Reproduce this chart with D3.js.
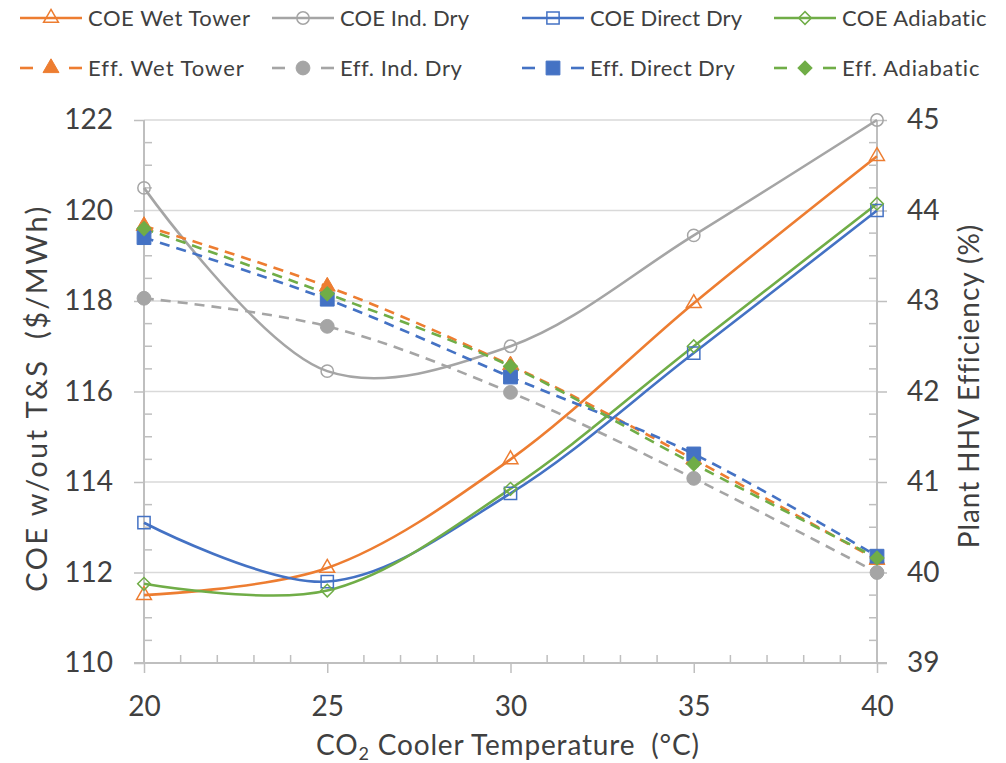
<!DOCTYPE html>
<html>
<head>
<meta charset="utf-8">
<script src="https://cdn.jsdelivr.net/npm/d3@7"></script>
<style>
  body { margin: 0; background: #fff; }
  svg text { font-family: Lato, "Open Sans", sans-serif; fill: #404040; }
</style>
</head>
<body>
<div id="chart"></div>
<script>
// values
const temps = [20, 25, 30, 35, 40];

const coeWet    = [111.5, 112.1, 114.5, 117.95, 121.2];
const coeInd    = [120.5, 116.45, 117.0, 119.45, 122.0];
const coeDirect = [113.1, 111.8, 113.75, 116.85, 120.0];
const coeAdia   = [111.75, 111.6, 113.85, 117.0, 120.15];

const effWet    = [43.83, 43.16, 42.29, 41.25, 40.14];
const effInd    = [43.03, 42.72, 41.99, 41.04, 40.0];
const effDirect = [43.70, 43.02, 42.16, 41.31, 40.18];
const effAdia   = [43.80, 43.08, 42.28, 41.20, 40.16];

const xTicks = [20, 25, 30, 35, 40];
const leftTicks = [110, 112, 114, 116, 118, 120, 122];
const rightTicks = [39, 40, 41, 42, 43, 44, 45];

const colors = { wet: "#ED7D31", ind: "#A5A5A5", direct: "#4472C4", adia: "#70AD47" };

const series = [
  { name: "COE Wet Tower",   vals: coeWet,    c: colors.wet,    axis: "l", shape: "tri",  fill: false },
  { name: "COE Ind. Dry",    vals: coeInd,    c: colors.ind,    axis: "l", shape: "circ", fill: false },
  { name: "COE Direct Dry",  vals: coeDirect, c: colors.direct, axis: "l", shape: "sq",   fill: false },
  { name: "COE Adiabatic",   vals: coeAdia,   c: colors.adia,   axis: "l", shape: "dia",  fill: false },
  { name: "Eff. Wet Tower",  vals: effWet,    c: colors.wet,    axis: "r", shape: "tri",  fill: true },
  { name: "Eff. Ind. Dry",   vals: effInd,    c: colors.ind,    axis: "r", shape: "circ", fill: true },
  { name: "Eff. Direct Dry", vals: effDirect, c: colors.direct, axis: "r", shape: "sq",   fill: true },
  { name: "Eff. Adiabatic",  vals: effAdia,   c: colors.adia,   axis: "r", shape: "dia",  fill: true }
];
// text widths measured on the reference (px)
const legendWidths = [162, 129, 152, 145, 155, 121, 144, 137];

const width = 1006, height = 763;
const plot = { left: 144, right: 877, top: 120, bottom: 663 };

const svg = d3.select("#chart").append("svg")
  .attr("width", width).attr("height", height);

const x = d3.scaleLinear().domain([20, 40]).range([plot.left, plot.right]);
const yL = d3.scaleLinear().domain([110, 122]).range([plot.bottom, plot.top]);
const yR = d3.scaleLinear().domain([39, 45]).range([plot.bottom, plot.top]);

const axisCol = "#BFBFBF";

// stretch a text's letter spacing so it spans a given width
function fitWidth(sel, target) {
  const node = sel.node();
  const w = node.getComputedTextLength();
  const n = node.textContent.length;
  if (n > 1) sel.style("letter-spacing", ((target - w) / (n - 1)) + "px");
}

// gridlines
svg.append("g").selectAll("line").data(leftTicks.slice(1)).enter().append("line")
  .attr("x1", plot.left).attr("x2", plot.right)
  .attr("y1", d => yL(d)).attr("y2", d => yL(d))
  .attr("stroke", "#D9D9D9").attr("stroke-width", 1.5);

// minor ticks
function minor(lo, hi, step) {
  const out = [];
  for (let i = 0; lo + i * step <= hi + 1e-9; i++) out.push(+(lo + i * step).toFixed(4));
  return out;
}
const g = svg.append("g");
minor(110, 122, 0.5).filter(d => d % 2 !== 0).forEach(d => {
  g.append("line").attr("x1", plot.left).attr("x2", plot.left + 8)
    .attr("y1", yL(d)).attr("y2", yL(d)).attr("stroke", axisCol).attr("stroke-width", 1.5);
});
minor(39, 45, 0.25).filter(d => d % 1 !== 0).forEach(d => {
  g.append("line").attr("x1", plot.right - 8).attr("x2", plot.right)
    .attr("y1", yR(d)).attr("y2", yR(d)).attr("stroke", axisCol).attr("stroke-width", 1.5);
});
minor(20, 40, 1).filter(d => d % 5 !== 0).forEach(d => {
  g.append("line").attr("x1", x(d)).attr("x2", x(d))
    .attr("y1", plot.bottom - 8).attr("y2", plot.bottom).attr("stroke", axisCol).attr("stroke-width", 1.5);
});

// axes
function styleAxis(sel) {
  sel.select(".domain").remove();
  sel.selectAll(".tick line").attr("stroke", axisCol).attr("stroke-width", 1.5);
  sel.selectAll(".tick text").style("font-size", "28px").attr("fill", "#404040");
}
svg.append("g").attr("transform", `translate(${plot.left},0)`)
  .call(d3.axisLeft(yL).tickValues(leftTicks).tickSize(10).tickPadding(21).tickFormat(d3.format("d")))
  .call(styleAxis);
svg.append("g").attr("transform", `translate(${plot.right},0)`)
  .call(d3.axisRight(yR).tickValues(rightTicks).tickSize(10).tickPadding(20).tickFormat(d3.format("d")))
  .call(styleAxis);
svg.append("g").attr("transform", `translate(0,${plot.bottom})`)
  .call(d3.axisBottom(x).tickValues(xTicks).tickSize(10).tickPadding(23).tickFormat(d3.format("d")))
  .call(styleAxis);

svg.append("line").attr("x1", plot.left).attr("x2", plot.left).attr("y1", plot.top).attr("y2", plot.bottom)
  .attr("stroke", axisCol).attr("stroke-width", 2);
svg.append("line").attr("x1", plot.right).attr("x2", plot.right).attr("y1", plot.top).attr("y2", plot.bottom)
  .attr("stroke", axisCol).attr("stroke-width", 2);
svg.append("line").attr("x1", plot.left - 10).attr("x2", plot.right + 10).attr("y1", plot.bottom).attr("y2", plot.bottom)
  .attr("stroke", axisCol).attr("stroke-width", 2);

// axis titles
const xt = svg.append("text").attr("x", 508).attr("y", 755).attr("text-anchor", "middle").style("font-size", "28px");
xt.append("tspan").text("CO");
xt.append("tspan").attr("dy", 5).style("font-size", "18px").text("2");
xt.append("tspan").attr("dy", -5).text(" Cooler Temperature\u00a0\u00a0(°C)");
fitWidth(xt, 383);

const lt = svg.append("text").attr("transform", "translate(47,398) rotate(-90)").attr("text-anchor", "middle")
  .style("font-size", "29px").text("COE w/out T&S\u00a0\u00a0($/MWh)");
fitWidth(lt, 385);
const rt = svg.append("text").attr("transform", "translate(979,386) rotate(-90)").attr("text-anchor", "middle")
  .style("font-size", "28px").text("Plant HHV Efficiency (%)");
fitWidth(rt, 322);

// marker shapes
function markerPath(shape, filled) {
  if (shape === "tri") return d3.symbol(d3.symbolTriangle, filled ? 110 : 95)();
  if (shape === "circ") return d3.symbol(d3.symbolCircle, filled ? 150 : 120)();
  if (shape === "sq") return d3.symbol(d3.symbolSquare, filled ? 190 : 150)();
  return d3.symbol(d3.symbolSquare, filled ? 100 : 80)();
}

function drawMarker(sel, s, px, py) {
  sel.append("path")
    .attr("d", markerPath(s.shape, s.fill))
    .attr("transform", `translate(${px},${py})` + (s.shape === "dia" ? " rotate(45)" : ""))
    .attr("fill", s.fill ? s.c : "none")
    .attr("stroke", s.c)
    .attr("stroke-width", s.fill ? 1 : 1.5);
}

// lines
const lines = svg.append("g");
series.forEach(s => {
  const y = s.axis === "l" ? yL : yR;
  const line = d3.line().x((d, i) => x(temps[i])).y(d => y(d)).curve(d3.curveCatmullRom.alpha(0.5));
  lines.append("path").datum(s.vals)
    .attr("d", line)
    .attr("fill", "none")
    .attr("stroke", s.c)
    .attr("stroke-width", 2.6)
    .attr("stroke-dasharray", s.fill ? "10,7" : null);
});
series.forEach(s => {
  const y = s.axis === "l" ? yL : yR;
  const mg = lines.append("g");
  s.vals.forEach((v, i) => drawMarker(mg, s, x(temps[i]), y(v)));
});

// legend
const legX = [20, 272, 522, 774];
const legY = [18, 68];
const leg = svg.append("g");
series.forEach((s, i) => {
  const col = i % 4, row = Math.floor(i / 4);
  const lx = legX[col], ly = legY[row];
  if (s.fill) {
    leg.append("line").attr("x1", lx).attr("x2", lx + 13).attr("y1", ly).attr("y2", ly)
      .attr("stroke", s.c).attr("stroke-width", 2.6);
    leg.append("line").attr("x1", lx + 49).attr("x2", lx + 62).attr("y1", ly).attr("y2", ly)
      .attr("stroke", s.c).attr("stroke-width", 2.6);
  } else {
    leg.append("line").attr("x1", lx).attr("x2", lx + 62).attr("y1", ly).attr("y2", ly)
      .attr("stroke", s.c).attr("stroke-width", 2.6);
  }
  drawMarker(leg, s, lx + 31, ly);
  const t = leg.append("text").attr("x", lx + 68).attr("y", ly).attr("dy", "0.36em")
    .style("font-size", "22px").text(s.name);
  fitWidth(t, legendWidths[i]);
});
</script>
</body>
</html>
